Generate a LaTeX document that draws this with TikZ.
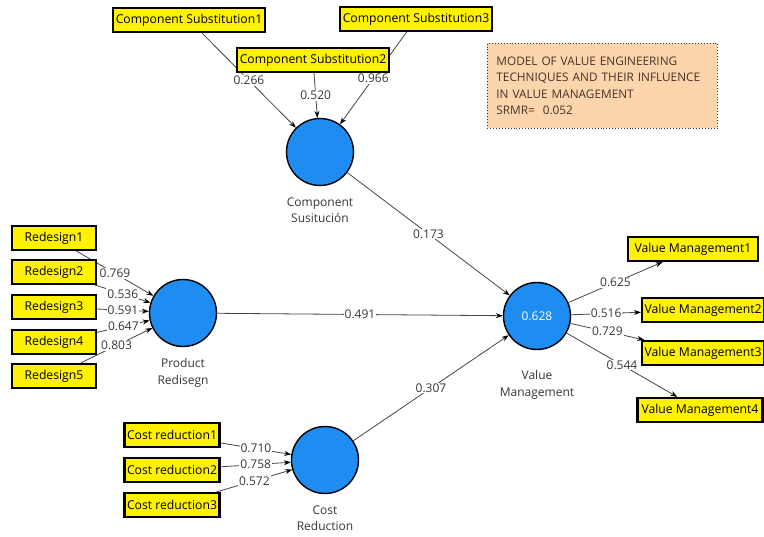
\documentclass[tikz,border=0pt]{standalone}
\usepackage{fontspec}
\setmainfont{Open Sans}
\usetikzlibrary{positioning,arrows.meta,backgrounds}
\definecolor{plsblue}{RGB}{30,140,240}
\definecolor{notefill}{RGB}{252,213,172}
\definecolor{notetxt}{RGB}{70,50,40}
\definecolor{txtgray}{RGB}{55,55,55}
\definecolor{linegray}{RGB}{70,70,70}

\begin{document}
\begin{tikzpicture}[x=1pt,y=-1pt,
  ind/.style={draw=black, line width=2.2pt, fill=yellow, inner xsep=2.5pt, minimum height=24pt, font=\fontsize{12.2}{13}\selectfont},
  lv/.style={circle, draw=black, line width=1.4pt, fill=plsblue, minimum size=67pt, inner sep=0pt, text=white, font=\fontsize{12}{13}\selectfont},
  lvname/.style={text=txtgray, align=center, inner sep=0pt, font=\fontsize{12}{16.5}\selectfont},
  conn/.style={draw=linegray, line width=0.8pt, -{Stealth[length=7pt,width=5pt,black]}},
  wt/.style={fill=white, inner sep=1pt, text=txtgray, font=\fontsize{12}{13}\selectfont}]
	\useasboundingbox (0,0) rectangle (764,537);

	% latent variables
	\node[lv] (cs) at (320,152) {};
	\node[lv] (pr) at (183,313) {};
	\node[lv] (cr) at (325,460) {};
	\node[lv] (vm) at (537,316) {0.628};
	\node[lvname, below=11pt of cs] {Component\\Susitución};
	\node[lvname, below=11pt of pr] {Product\\Redisegn};
	\node[lvname, below=11pt of cr] {Cost\\Reduction};
	\node[lvname, below=20pt of vm] {Value\\Management};

	% indicators
	\node[ind] (cs1) at (189,20) {Component Substitution1};
	\node[ind] (cs2) at (313,60) {Component Substitution2};
	\node[ind] (cs3) at (416,19) {Component Substitution3};
	\foreach \i/\y in {1/238,2/272,3/307,4/342,5/376}
		\node[ind, minimum width=84pt] (rd\i) at (54,\y) {Redesign\i};
	\foreach \i/\y in {1/435,2/470,3/505}
		\node[ind] (cr\i) at (172,\y) {Cost reduction\i};
	\node[ind, minimum width=130pt] (vm1) at (693,249) {Value Management1};
	\node[ind, anchor=west] (vm2) at (641,310) {Value Management2};
	\node[ind, anchor=west] (vm3) at (641,353) {Value Management3};
	\node[ind, minimum width=125pt] (vm4) at (700,410) {Value Management4};

	% note
	\node[draw=notetxt, dotted, line width=0.9pt, fill=notefill, anchor=north west, minimum width=230pt, minimum height=85pt, text width=212pt, align=left, text=notetxt, font=\fontsize{11.8}{16.3}\selectfont] (note) at (487,43)
		{MODEL OF VALUE ENGINEERING\\TECHNIQUES AND THEIR INFLUENCE\\IN VALUE MANAGEMENT\\SRMR=~~0.052};

	\begin{pgfonlayer}{background}
	\fill[white] (0,0) rectangle (764,537);
	% outer loadings
	\draw[conn] (cs1) -- node[wt]{0.266} (cs);
	\draw[conn] (cs2) -- node[wt]{0.520} (cs);
	\draw[conn] (cs3) -- node[wt]{0.966} (cs);
	\draw[conn] (rd1) -- node[wt]{0.769} (pr);
	\draw[conn] (rd2) -- node[wt]{0.536} (pr);
	\draw[conn] (rd3) -- node[wt]{0.591} (pr);
	\draw[conn] (rd4) -- node[wt]{0.647} (pr);
	\draw[conn] (rd5) -- node[wt]{0.803} (pr);
	\draw[conn] (cr1) -- node[wt]{0.710} (cr);
	\draw[conn] (cr2) -- node[wt]{0.758} (cr);
	\draw[conn] (cr3) -- node[wt]{0.572} (cr);
	\draw[conn] (vm) -- node[wt]{0.625} (vm1);
	\draw[conn] (vm) -- node[wt]{0.516} (vm2);
	\draw[conn] (vm) -- node[wt]{0.729} (vm3);
	\draw[conn] (vm) -- node[wt]{0.544} (vm4);

	% path coefficients
	\draw[conn] (cs) -- node[wt]{0.173} (vm);
	\draw[conn] (pr) -- node[wt]{0.491} (vm);
	\draw[conn] (cr) -- node[wt]{0.307} (vm);
	\end{pgfonlayer}
\end{tikzpicture}
\end{document}
